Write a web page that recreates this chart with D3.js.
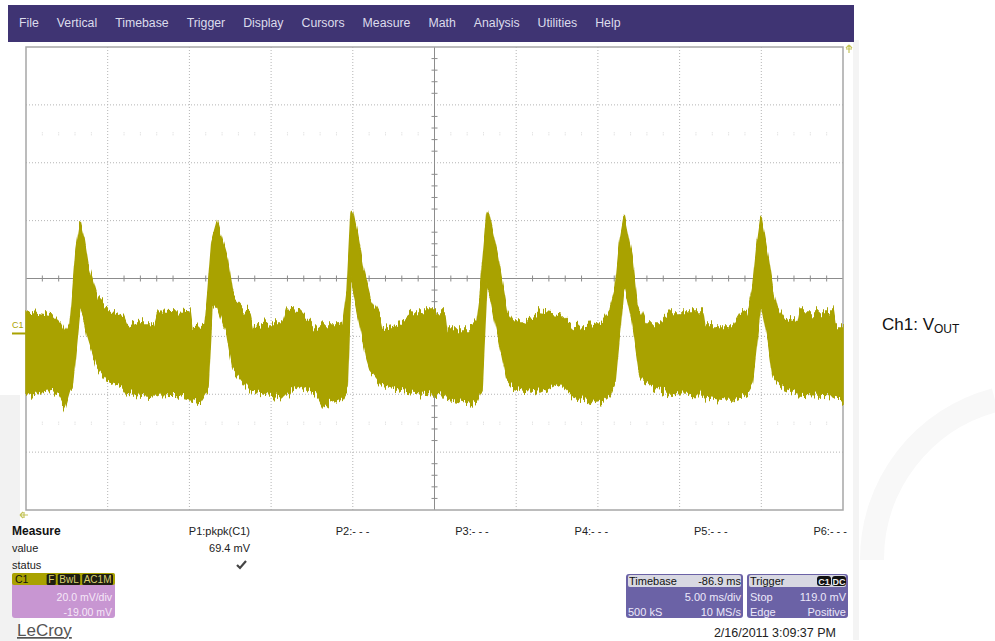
<!DOCTYPE html>
<html><head><meta charset="utf-8">
<script src="https://cdn.jsdelivr.net/npm/d3@7"></script>
<style>body{margin:0;background:#fff;} svg{display:block;font-family:Arial,"Liberation Sans",sans-serif;}</style>
</head><body><svg id="c" width="995" height="641"></svg>
<script>
// ---------------- data ----------------
const menuItems = ["File","Vertical","Timebase","Trigger","Display","Cursors","Measure","Math","Analysis","Utilities","Help"];
// time in ms (5 ms/div, 10 div), envelope of the noisy trace in mV
const timeMs = [0,0.86,1.65,2.08,2.39,2.69,2.82,3.06,3.31,3.55,3.79,4.35,4.96,5.32,5.94,6.18,6.98,7.89,8.08,9.12,10.04,10.16,10.65,10.95,11.14,11.38,11.69,12.00,12.30,12.67,13.40,13.71,13.89,14.93,15.73,15.97,16.77,17.81,18.18,19.09,19.40,19.65,19.89,19.95,20.26,20.62,20.87,21.05,21.66,21.79,22.89,23.68,25.64,25.77,26.38,27.17,27.60,27.78,27.91,28.21,28.27,28.82,29.44,29.80,30.42,31.46,32.68,33.48,34.70,35.31,35.74,36.05,36.35,36.60,37.09,37.39,37.58,37.88,38.80,39.41,41.43,41.55,42.90,43.27,43.70,44.19,44.43,44.49,44.74,44.98,45.41,45.72,45.96,46.33,47.25,47.37,49.39,49.51,50.00];
const upperMv = [7.4,6.7,6.0,3.6,0.2,3.6,11.6,28.9,38.2,32.3,23.7,12.6,9.2,7.4,5.7,2.2,4.0,4.0,8.1,7.8,7.4,1.9,2.2,3.6,15.0,32.3,38.5,32.3,26.4,12.6,8.1,7.1,2.2,3.6,3.6,8.1,7.4,1.2,2.9,2.9,3.6,15.0,42.3,43.4,34.7,23.0,16.8,12.6,5.7,2.2,3.6,7.4,7.4,1.2,1.2,1.2,3.6,11.6,21.9,41.0,42.0,27.8,7.1,3.6,3.6,7.4,6.4,2.2,2.9,4.0,8.1,15.0,32.3,40.3,26.4,10.5,8.1,3.6,3.6,7.4,7.4,2.9,2.9,2.9,7.1,8.1,15.0,16.8,30.6,40.3,26.4,15.0,9.2,5.4,4.0,7.4,7.4,2.9,2.9];
const lowerMv = [-21.3,-20.2,-19.5,-21.9,-25.4,-19.5,-19.5,-5.7,9.2,5.4,-1.2,-11.6,-16.1,-17.4,-18.5,-20.6,-21.3,-21.9,-21.3,-20.9,-22.3,-23.0,-24.0,-21.3,-19.5,8.1,9.8,4.7,-0.5,-12.6,-17.8,-19.5,-20.2,-21.3,-21.9,-20.6,-17.8,-21.3,-25.4,-23.0,-21.9,-19.5,18.5,16.8,8.1,-2.2,-9.2,-12.6,-17.1,-17.8,-19.5,-20.2,-21.3,-22.3,-23.0,-24.0,-23.0,-20.2,-19.5,18.5,17.4,1.2,-16.1,-18.5,-19.5,-20.2,-17.1,-21.9,-24.0,-23.0,-21.3,-17.1,1.2,17.4,4.7,-7.4,-15.0,-16.8,-19.5,-20.6,-21.3,-21.9,-23.0,-23.0,-21.9,-20.2,-17.8,-15.0,-2.2,10.5,-2.2,-15.0,-16.8,-18.5,-20.6,-21.3,-21.9,-22.3,-23.0];
const voltsPerDiv = 20, offsetMv = -19, msPerDiv = 5, hDivs = 10, vDivs = 8;
const measureHeaders = ["P1:pkpk(C1)","P2:- - -","P3:- - -","P4:- - -","P5:- - -","P6:- - -"];
const measureRows = ["value","status"];
const measureValues = ["69.4 mV"];
const c1Tags = ["F","BwL","AC1M"];
const c1Lines = ["20.0 mV/div","-19.00 mV"];
const timebase = {delay:"-86.9 ms", scale:"5.00 ms/div", samples:"500 kS", rate:"10 MS/s"};
const trigger = {src:["C1","DC"], mode:"Stop", level:"119.0 mV", type:"Edge", slope:"Positive"};
const dateText = "2/16/2011 3:09:37 PM";
// --------------------------------------

const svg = d3.select("#c");
const traceCol = "#a9a200";

// faint watermark shapes
svg.append("rect").attr("x",0).attr("y",395).attr("width",20).attr("height",246).attr("fill","#f2f2f2");
svg.append("path").attr("d","M995,400 A165,165 0 0 0 872,560").attr("fill","none").attr("stroke","#f8f8f8").attr("stroke-width",24);
svg.append("rect").attr("x",853).attr("y",40).attr("width",6).attr("height",600).attr("fill","#f4f4f4");

// menu bar
svg.append("rect").attr("x",8).attr("y",5).attr("width",846).attr("height",37).attr("fill","#3f3473");
let mx = 19;
menuItems.forEach(m => {
  const t = svg.append("text").attr("x",mx).attr("y",27).attr("font-size",12.3).attr("fill","#dcdcec").text(m);
  mx += t.node().getComputedTextLength() + 18;
});

// scales
const x = d3.scaleLinear().domain([0, msPerDiv*hDivs]).range([26,843]);
const vc = -offsetMv;
const y = d3.scaleLinear().domain([vc - voltsPerDiv*vDivs/2, vc + voltsPerDiv*vDivs/2]).range([510,47]);

// grid
const g = svg.append("g");
const tDiv = d3.range(1,hDivs).map(i=>i*msPerDiv);
const vDiv = d3.range(1,vDivs).map(i=>y.domain()[0]+i*voltsPerDiv);
g.selectAll(".vg").data(tDiv).join("line").attr("x1",d=>x(d)).attr("x2",d=>x(d)).attr("y1",47).attr("y2",510)
  .attr("stroke","#b4b4b4").attr("stroke-dasharray","1,2");
g.selectAll(".hg").data(vDiv).join("line").attr("y1",d=>y(d)).attr("y2",d=>y(d)).attr("x1",26).attr("x2",843)
  .attr("stroke","#b4b4b4").attr("stroke-dasharray","1,2");
// center axes
const tMid = msPerDiv*hDivs/2;
g.append("line").attr("x1",26).attr("x2",843).attr("y1",y(vc)).attr("y2",y(vc)).attr("stroke","#8c8c8c");
g.append("line").attr("x1",x(tMid)).attr("x2",x(tMid)).attr("y1",47).attr("y2",510).attr("stroke","#8c8c8c");
const tMinor = d3.range(0, msPerDiv*hDivs, msPerDiv/5).filter(d=>d%msPerDiv!==0);
g.selectAll(".tt").data(tMinor).join("line").attr("x1",d=>x(d)).attr("x2",d=>x(d)).attr("y1",y(vc)-3).attr("y2",y(vc)+3).attr("stroke","#8c8c8c");
const vMinor = d3.range(y.domain()[0], y.domain()[1], voltsPerDiv/5).filter((d,i)=>i%5!==0);
g.selectAll(".vt").data(vMinor).join("line").attr("y1",d=>y(d)).attr("y2",d=>y(d)).attr("x1",x(tMid)-3).attr("x2",x(tMid)+3).attr("stroke","#8c8c8c");
// faint sub-division marks in two rows
[y.domain()[0]+1.5*voltsPerDiv, y.domain()[0]+6.5*voltsPerDiv].forEach(v=>{
  g.selectAll(null).data(tMinor).join("line").attr("x1",d=>x(d)).attr("x2",d=>x(d)).attr("y1",y(v)-1.5).attr("y2",y(v)+1.5).attr("stroke","#d8d8d8").attr("stroke-dasharray","1,1");
});
// border
g.append("rect").attr("x",26).attr("y",47).attr("width",817).attr("height",463).attr("fill","none").attr("stroke","#a6a6a6").attr("stroke-width",1.5);

// noise filter
const defs = svg.append("defs");
const f = defs.append("filter").attr("id","nz").attr("x","-2%").attr("y","-15%").attr("width","104%").attr("height","130%");
f.append("feTurbulence").attr("type","fractalNoise").attr("baseFrequency","0.45 0.008").attr("numOctaves",3).attr("seed",7).attr("result","t");
f.append("feColorMatrix").attr("in","t").attr("type","matrix").attr("values","0 0 0 0 0.5  0 1 0 0 0  0 0 0 0 0  0 0 0 0 1").attr("result","m");
f.append("feDisplacementMap").attr("in","SourceGraphic").attr("in2","m").attr("scale",18).attr("xChannelSelector","R").attr("yChannelSelector","G");

// trace
const pts = timeMs.map((t,i)=>({t, hi:upperMv[i], lo:lowerMv[i]}));
const area = d3.area().x(d=>x(d.t)).y0(d=>y(d.lo)).y1(d=>y(d.hi)).curve(d3.curveLinear);
svg.append("path").datum(pts).attr("d",area).attr("fill",traceCol).attr("stroke",traceCol).attr("stroke-width",1.5).attr("filter","url(#nz)");

// C1 ground marker
svg.append("text").attr("x",12).attr("y",y(0)-5).attr("font-size",9).attr("fill",traceCol).text("C1");
svg.append("line").attr("x1",12).attr("x2",26).attr("y1",y(0)).attr("y2",y(0)).attr("stroke",traceCol).attr("stroke-width",2);

// arrows
svg.append("path").attr("d","M20,515 h8 M20,515 l3,-3 M20,515 l3,3 M24,512 v6").attr("stroke","#c4c45a").attr("stroke-width",1.2).attr("fill","none");
svg.append("path").attr("d","M849,45 v8 M849,45 l-3,3 M849,45 l3,3 M846,49 h6").attr("stroke","#c4c45a").attr("stroke-width",1.2).attr("fill","none");

// Measure table
svg.append("text").attr("x",12).attr("y",535).attr("font-size",12).attr("font-weight","bold").attr("fill","#111").text("Measure");
measureRows.forEach((r,i)=>svg.append("text").attr("x",12).attr("y",552+i*17).attr("font-size",11).attr("fill","#222").text(r));
const colX = d3.scaleLinear().domain([0,5]).range([250,847]);
measureHeaders.forEach((h,i)=>svg.append("text").attr("x",colX(i)).attr("y",535).attr("text-anchor","end").attr("font-size",11).attr("fill","#222").text(h));
measureValues.forEach((v,i)=>svg.append("text").attr("x",colX(i)).attr("y",552).attr("text-anchor","end").attr("font-size",11).attr("fill","#222").text(v));
svg.append("path").attr("d","M237,565 l3,3 l6,-7").attr("stroke","#444").attr("stroke-width",2.2).attr("fill","none");

// C1 box
const cb = svg.append("g");
cb.append("rect").attr("x",12).attr("y",573).attr("width",103).attr("height",45).attr("rx",3).attr("fill","#c896d2");
cb.append("rect").attr("x",12).attr("y",573).attr("width",103).attr("height",12).attr("rx",2).attr("fill",traceCol);
cb.append("text").attr("x",15).attr("y",583).attr("font-size",10.5).attr("fill","#111").text("C1");
let tx = 113;
[...c1Tags].reverse().forEach(tag=>{
  const t = cb.append("text").attr("y",583).attr("font-size",10).attr("fill","#d8d070").attr("text-anchor","end").text(tag);
  const w = t.node().getComputedTextLength();
  cb.insert("rect","text:last-child").attr("x",tx-w-3).attr("y",574).attr("width",w+3).attr("height",11).attr("rx",1.5).attr("fill","#1e1e10");
  t.attr("x",tx-1.5); t.raise();
  tx -= w+5;
});
c1Lines.forEach((l,i)=>cb.append("text").attr("x",112).attr("y",601+i*14.5).attr("text-anchor","end").attr("font-size",10.5).attr("fill","#f6e8f8").text(l));

// LeCroy
svg.append("text").attr("x",17).attr("y",636).attr("font-size",17).attr("fill","#555").attr("text-decoration","underline").text("LeCroy");

// Timebase box
const tb = svg.append("g");
tb.append("rect").attr("x",626).attr("y",574).attr("width",117).attr("height",44).attr("rx",3).attr("fill","#6b62a6");
tb.append("rect").attr("x",628).attr("y",575).attr("width",113).attr("height",12).attr("rx",2).attr("fill","#d8d8e2");
tb.append("text").attr("x",629).attr("y",585).attr("font-size",11).attr("fill","#111").text("Timebase");
tb.append("text").attr("x",741).attr("y",585).attr("font-size",11).attr("text-anchor","end").attr("fill","#111").text(timebase.delay);
tb.append("text").attr("x",741).attr("y",601).attr("font-size",11).attr("text-anchor","end").attr("fill","#ebe8fa").text(timebase.scale);
tb.append("text").attr("x",628).attr("y",616).attr("font-size",11).attr("fill","#ebe8fa").text(timebase.samples);
tb.append("text").attr("x",741).attr("y",616).attr("font-size",11).attr("text-anchor","end").attr("fill","#ebe8fa").text(timebase.rate);

// Trigger box
const trg = svg.append("g");
trg.append("rect").attr("x",747).attr("y",574).attr("width",101).attr("height",44).attr("rx",3).attr("fill","#6b62a6");
trg.append("rect").attr("x",749).attr("y",575).attr("width",97).attr("height",12).attr("rx",2).attr("fill","#d8d8e2");
trg.append("text").attr("x",750).attr("y",585).attr("font-size",11).attr("fill","#111").text("Trigger");
let px = 846;
[...trigger.src].reverse().forEach(s=>{
  trg.append("rect").attr("x",px-14).attr("y",576).attr("width",14).attr("height",10).attr("rx",3).attr("fill","#111");
  trg.append("text").attr("x",px-7).attr("y",584.5).attr("font-size",9).attr("font-weight","bold").attr("text-anchor","middle").attr("fill","#eee").text(s);
  px -= 15;
});
trg.append("text").attr("x",750).attr("y",601).attr("font-size",11).attr("fill","#ebe8fa").text(trigger.mode);
trg.append("text").attr("x",846).attr("y",601).attr("font-size",11).attr("text-anchor","end").attr("fill","#ebe8fa").text(trigger.level);
trg.append("text").attr("x",750).attr("y",616).attr("font-size",11).attr("fill","#ebe8fa").text(trigger.type);
trg.append("text").attr("x",846).attr("y",616).attr("font-size",11).attr("text-anchor","end").attr("fill","#ebe8fa").text(trigger.slope);

// date
svg.append("text").attr("x",836).attr("y",637).attr("text-anchor","end").attr("font-size",12.5).attr("fill","#222").text(dateText);

// channel label
const lab = svg.append("text").attr("x",882).attr("y",330).attr("font-size",17).attr("fill","#111");
lab.append("tspan").text("Ch1: V");
lab.append("tspan").attr("font-size",12).attr("dy",3).text("OUT");
</script></body></html>
